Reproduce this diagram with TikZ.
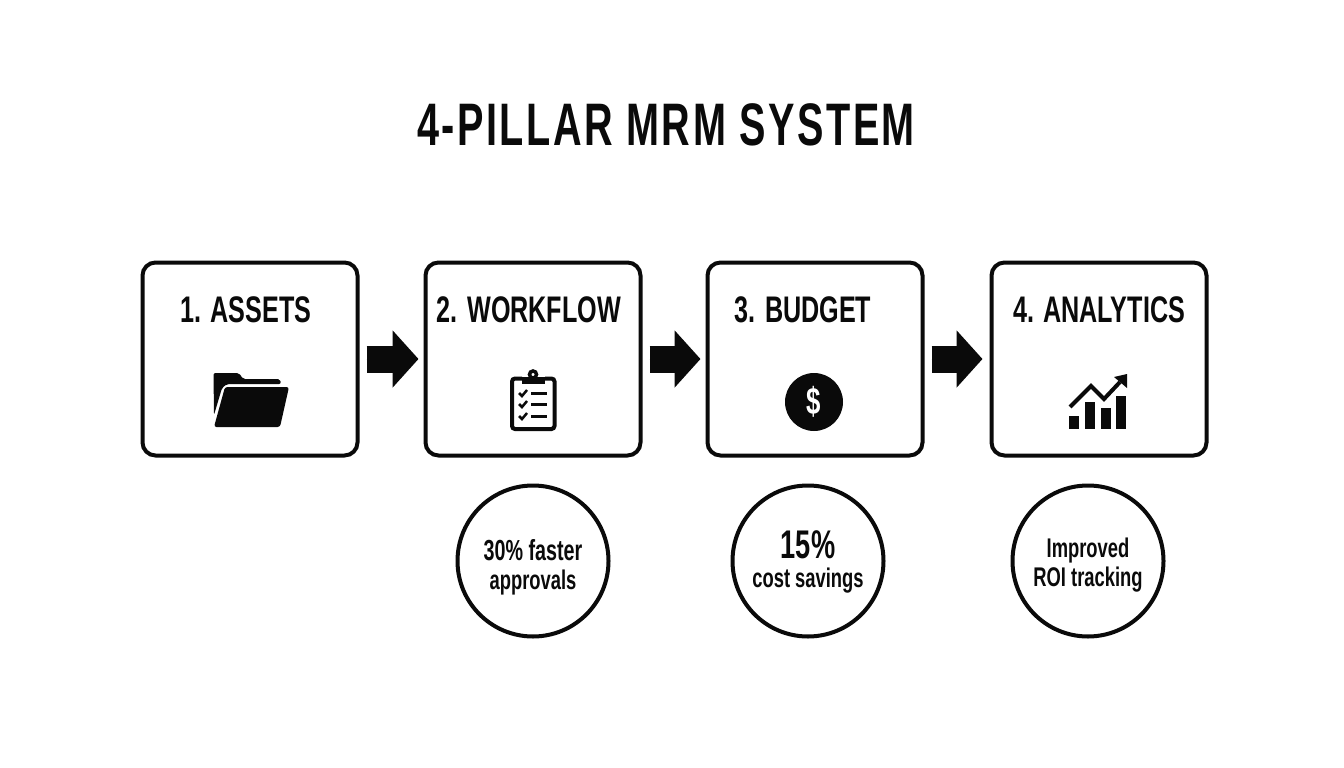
\documentclass[tikz,border=0pt]{standalone}
\usepackage{fontspec}
\usetikzlibrary{positioning}
\usetikzlibrary{arrows.meta}
\newfontfamily\pillarfont[FakeStretch=0.68]{Liberation Sans}
\newfontfamily\titlefont[FakeStretch=0.66,LetterSpace=4.2]{Liberation Sans}
\newfontfamily\gainfont[FakeStretch=0.68]{Liberation Sans}
\definecolor{ink}{HTML}{0A0A0A}
\tikzset{
	pillar/.style={draw=ink,line width=4pt,rounded corners=13pt,minimum width=215pt,minimum height=193pt,outer sep=0pt},
	pillarhead/.style={text=ink,font=\pillarfont\bfseries\fontsize{37}{37}\selectfont},
	gain/.style={circle,draw=ink,line width=4pt,minimum size=151pt,inner sep=0pt,outer sep=0pt},
	gaintext/.style={align=center,text=ink,font=\gainfont\bfseries\fontsize{27}{29}\selectfont},
	flow/.style={-{Triangle[length=26pt,width=56pt]},draw=ink,fill=ink,line width=27pt,shorten <=9pt,shorten >=7pt},
	iconline/.style={draw=ink,line width=4pt},
}
\begin{document}
\begin{tikzpicture}[x=1pt,y=-1pt]
\useasboundingbox (0,0) rectangle (1344,768);
\fill[white] (0,0) rectangle (1344,768);
\node[text=ink,font=\titlefont\bfseries\fontsize{60}{60}\selectfont] (title) at (666,125) {4-PILLAR MRM SYSTEM};

\node[pillar] (assets) at (250,359) {};
\node[pillar,right=68pt of assets] (workflow) {};
\node[pillar,right=67pt of workflow] (budget) {};
\node[pillar,right=69pt of budget] (analytics) {};

\node[pillarhead,below=30.5pt of assets.north,xshift=-4pt] (assetshead) {1. ASSETS};
\node[pillarhead,below=30.5pt of workflow.north,xshift=-4pt] (workflowhead) {2. WORKFLOW};
\node[pillarhead,below=30.5pt of budget.north,xshift=-12pt] (budgethead) {3. BUDGET};
\node[pillarhead,below=30.5pt of analytics.north] (analyticshead) {4. ANALYTICS};

\draw[flow] (assets) -- (workflow);
\draw[flow] (workflow) -- (budget);
\draw[flow,shorten >=9pt] (budget) -- (analytics);

\node[gain,below=30pt of workflow] (faster) {};
\node[gain,below=30pt of budget,xshift=-7pt] (savings) {};
\node[gain,below=30pt of analytics,xshift=-11pt] (tracking) {};
\node[gaintext,yshift=-6pt] (fastertext) at (faster) {{\fontsize{29}{29}\selectfont 30\% faster}\\approvals};
\node[gaintext,yshift=-1pt] (savingstext) at (savings) {{\fontsize{40}{36}\selectfont 15\%}\\cost savings};
\node[gaintext,yshift=-4pt] (trackingtext) at (tracking) {Improved\\ROI tracking};

% folder
\fill[ink,rounded corners=2pt] (213.5,373) -- (239,373) -- (243,379) -- (280,379) -- (281,384) -- (227,384) -- (222,388) -- (214,415) -- cycle;
\fill[ink,rounded corners=2.5pt] (225,387) -- (289,387) -- (280,427) -- (214,427) -- cycle;

% clipboard
\draw[iconline,rounded corners=3pt] (522,378.5) -- (512,378.5) -- (512,429) -- (554.5,429) -- (554.5,378.5) -- (545,378.5);
\fill[ink] (522,376.5) rectangle (545,384);
\draw[ink,line width=3.5pt] (533,374.5) circle (3.5);
\foreach \rowy in {393,404,416} {
	\draw[ink,line width=2.5pt] (519,\rowy) -- (522,\rowy+3) -- (527,\rowy-3);
	\draw[iconline,line width=3pt] (531,\rowy) -- (547,\rowy);
}

% dollar
\fill[ink] (814,402) circle (29);
\node[text=white,font=\pillarfont\bfseries\fontsize{38}{38}\selectfont] (dollar) at (814,402) {\$};

% chart
\fill[ink] (1069,416) rectangle (1079,429);
\fill[ink] (1085,402) rectangle (1095,429);
\fill[ink] (1101,408) rectangle (1111,429);
\fill[ink] (1116,396) rectangle (1126,429);
\draw[iconline] (1070,407) -- (1091,386) -- (1104,399) -- (1120,382);
\fill[ink] (1127,374) -- (1114,377) -- (1127,388) -- cycle;
\end{tikzpicture}
\end{document}
